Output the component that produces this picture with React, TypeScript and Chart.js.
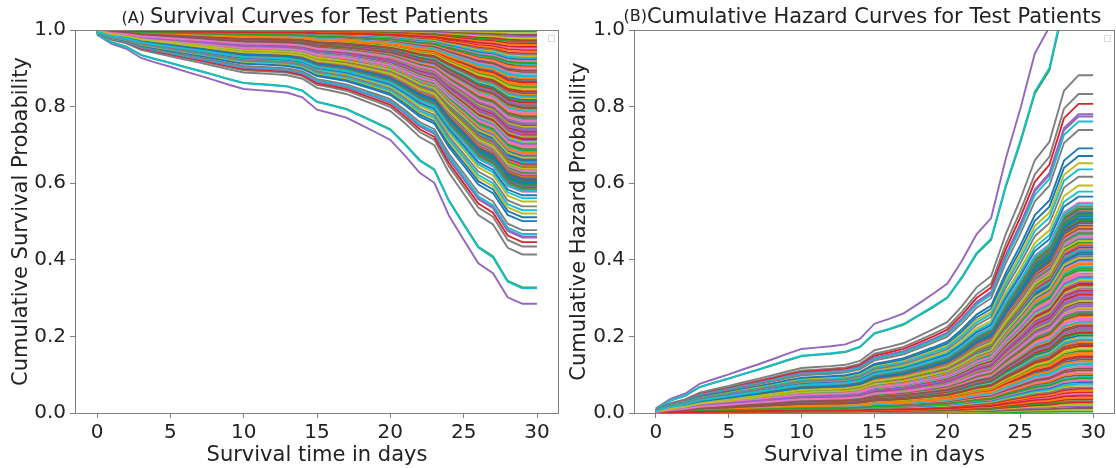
import React, { useEffect, useRef } from "react";
import { Chart, registerables } from "chart.js";

Chart.register(...registerables);

const FONT = "'DejaVu Sans', 'Liberation Sans', sans-serif";

// Day grid of the curves
const days = [0, 1, 2, 3, 4, 5, 6, 7, 8, 9, 10, 11, 12, 13, 14, 15, 16, 17, 18, 19, 20, 21, 22, 23, 24, 25, 26, 27, 28, 29, 30];

// Survival curve of the highest-risk test patient (lowest purple curve in panel A)
const highestRiskSurvival = [
  0.988, 0.964, 0.951, 0.927, 0.915, 0.904, 0.892, 0.881, 0.869, 0.857, 0.846,
  0.843, 0.84, 0.836, 0.824, 0.792, 0.782, 0.771, 0.752, 0.733, 0.713,
  0.672, 0.627, 0.601, 0.515, 0.452, 0.391, 0.365, 0.302, 0.285, 0.285,
];

// Cumulative hazard at day 30 for each test patient, in plotting order
const finalHazard = [
  0.139, 0.364, 0.004, 0.499, 1.255, 0.229, 0.049, 0.409, 0.274, 0.094,
  0.454, 0.184, 1.115, 0.319, 0.324, 0.099, 0.459, 0.189, 0.009, 1.122,
  0.414, 0.234, 0.504, 0.054, 0.279, 0.144, 0.369, 0.882, 0.594, 0.238,
  0.508, 0.058, 0.373, 0.148, 0.283, 0.013, 0.463, 0.833, 0.328, 0.193,
  0.418, 0.103, 0.468, 0.807, 0.018, 0.288, 0.108, 0.423, 0.198, 0.578,
  0.513, 0.153, 0.378, 0.063, 0.78, 0.333, 0.243, 0.067, 0.292, 0.427,
  0.565, 0.157, 0.517, 0.337, 0.774, 0.112, 0.247, 0.472, 0.022, 0.382,
  0.202, 0.387, 0.207, 0.027, 0.342, 0.117, 0.477, 0.297, 0.072, 0.761,
  0.522, 0.252, 0.162, 0.432, 0.301, 0.481, 0.549, 0.739, 0.166, 0.076,
  0.691, 0.391, 0.031, 0.211, 0.436, 0.256, 0.121, 0.526, 0.346, 0.126,
  0.671, 0.441, 0.261, 0.036, 0.306, 0.531, 0.396, 0.216, 0.171, 0.351,
  0.081, 0.486, 0.535, 0.175, 0.355, 0.49, 0.085, 0.265, 0.652, 0.13,
  0.4, 0.04, 0.445, 0.31, 0.22, 0.225, 0.36, 0.54, 0.45, 0.636,
  0.495, 0.135, 0.09, 0.045, 0.315, 0.18, 0.27, 0.617, 0.405, 0.546,
];

const xTicks = [0, 5, 10, 15, 20, 25, 30];
const yTicks = [0, 0.2, 0.4, 0.6, 0.8, 1.0];

const palette = ["#1f77b4", "#ff7f0e", "#2ca02c", "#d62728", "#9467bd", "#8c564b", "#e377c2", "#7f7f7f", "#bcbd22", "#17becf"];

const panelA = {
  kind: "survival",
  prefix: "(A) ",
  title: "Survival Curves for Test Patients",
  yLabel: "Cumulative Survival Probability",
  xLabel: "Survival time in days",
};
const panelB = {
  kind: "hazard",
  prefix: "(B)",
  title: "Cumulative Hazard Curves for Test Patients",
  yLabel: "Cumulative Hazard Probability",
  xLabel: "Survival time in days",
};

const panelTitlePlugin = {
  id: "panelTitle",
  afterDraw(chart: any, _args: any, opts: any) {
    const { ctx, chartArea } = chart;
    ctx.save();
    ctx.fillStyle = "#222";
    ctx.textBaseline = "alphabetic";
    ctx.textAlign = "left";
    ctx.font = `16px ${FONT}`;
    const w1 = ctx.measureText(opts.prefix).width;
    ctx.font = `21px ${FONT}`;
    const w2 = ctx.measureText(opts.text).width;
    const cx = (chartArea.left + chartArea.right) / 2 - 12;
    const x0 = cx - (w1 + w2) / 2;
    ctx.fillText(opts.text, x0 + w1, 23);
    ctx.font = `16px ${FONT}`;
    ctx.fillText(opts.prefix, x0, 23 - opts.raise);
    ctx.restore();
  },
};

const framePlugin = {
  id: "frame",
  afterDraw(chart: any) {
    const { ctx, chartArea: a } = chart;
    ctx.save();
    ctx.strokeStyle = "#808080";
    ctx.lineWidth = 1;
    const l = Math.round(a.left) + 0.5;
    const t = Math.round(a.top) + 0.5;
    const r = Math.round(a.right) - 0.5;
    const b = Math.round(a.bottom) + 0.5;
    ctx.strokeRect(l, t, r - l, b - t);
    ctx.strokeStyle = "#dadada";
    ctx.strokeRect(r - 10, t + 5, 6, 6);
    ctx.restore();
  },
};

function makeChart(canvas: HTMLCanvasElement, panel: any, yAxisWidth: number, yTitlePad: number, raise: number) {
  const H0 = highestRiskSurvival.map((s) => -Math.log(s));
  const H0end = H0[H0.length - 1];
  const datasets = finalHazard.map((h, i) => {
    const r = h / H0end;
    return {
      data: days.map((d, k) => ({
        x: d,
        y: panel.kind === "survival" ? Math.exp(-H0[k] * r) : H0[k] * r,
      })),
      borderColor: palette[i % palette.length],
      backgroundColor: palette[i % palette.length],
      borderWidth: 1.9,
      pointRadius: 0,
      pointHoverRadius: 0,
      fill: false,
      tension: 0,
      order: finalHazard.length - i,
    };
  });

  const tickFont = { family: FONT, size: 20 };
  const labelFont = { family: FONT, size: 21 };
  const grid = {
    display: true,
    drawOnChartArea: false,
    drawTicks: true,
    tickLength: 5,
    color: "#808080",
    lineWidth: 1,
  };

  return new Chart(canvas, {
    type: "line",
    data: { datasets },
    options: {
      responsive: false,
      animation: false,
      parsing: false,
      normalized: true,
      events: [],
      layout: { padding: { top: 30, right: 1, left: 0, bottom: 0 } },
      plugins: {
        legend: { display: false },
        tooltip: { enabled: false },
        title: { display: false },
        panelTitle: { prefix: panel.prefix, text: panel.title, raise },
      } as any,
      scales: {
        x: {
          type: "linear",
          min: -1.5,
          max: 31.5,
          afterBuildTicks: (s: any) => {
            s.ticks = xTicks.map((v) => ({ value: v }));
          },
          afterFit: (s: any) => {
            s.height = 55;
          },
          grid,
          border: { display: false },
          ticks: {
            font: tickFont,
            color: "#222",
            padding: 3,
            maxRotation: 0,
            autoSkip: false,
            callback: (v: any) => String(v),
          },
          title: {
            display: true,
            text: panel.xLabel,
            font: labelFont,
            color: "#222",
            padding: { top: 2, bottom: 0 },
          },
        },
        y: {
          type: "linear",
          min: 0,
          max: 1,
          afterBuildTicks: (s: any) => {
            s.ticks = yTicks.map((v) => ({ value: v }));
          },
          afterFit: (s: any) => {
            s.width = yAxisWidth;
          },
          grid,
          border: { display: false },
          ticks: {
            font: tickFont,
            color: "#222",
            padding: 4,
            callback: (v: any) => Number(v).toFixed(1),
          },
          title: {
            display: true,
            text: panel.yLabel,
            font: labelFont,
            color: "#222",
            padding: { top: yTitlePad, bottom: 0 },
          },
        },
      },
    } as any,
    plugins: [panelTitlePlugin, framePlugin],
  });
}

export default function App() {
  const refA = useRef<HTMLCanvasElement>(null);
  const refB = useRef<HTMLCanvasElement>(null);

  useEffect(() => {
    const a = makeChart(refA.current!, panelA, 75, 9, 0);
    const b = makeChart(refB.current!, panelB, 74, 7, 2);
    return () => {
      a.destroy();
      b.destroy();
    };
  }, []);

  return (
    <div style={{ position: "fixed", left: 0, top: 0, width: 1116, height: 468, background: "#fff" }}>
      <canvas ref={refA} width={560} height={468} style={{ position: "absolute", left: 0, top: 0 }} />
      <canvas ref={refB} width={556} height={468} style={{ position: "absolute", left: 560, top: 0 }} />
    </div>
  );
}
